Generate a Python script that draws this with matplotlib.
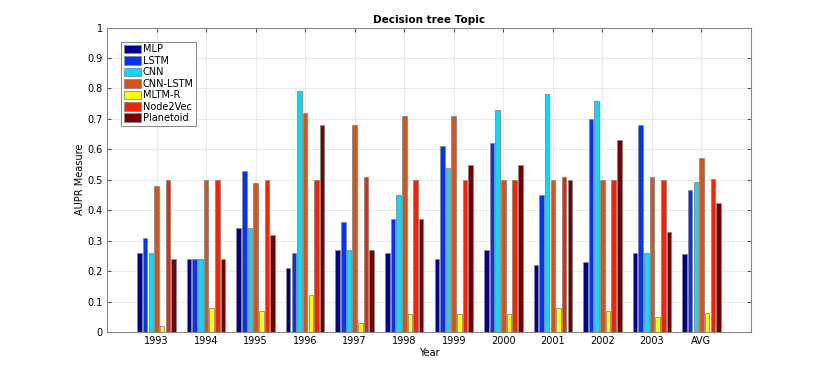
import matplotlib.pyplot as plt
import numpy as np

years = ["1993", "1994", "1995", "1996", "1997", "1998", "1999",
         "2000", "2001", "2002", "2003", "AVG"]
methods = ["MLP", "LSTM", "CNN", "CNN-LSTM", "MLTM-R", "Node2Vec", "Planetoid"]

mlp       = [0.26, 0.24, 0.34, 0.21, 0.27, 0.26, 0.24, 0.27, 0.22, 0.23, 0.26, 0.255]
lstm      = [0.31, 0.24, 0.53, 0.26, 0.36, 0.37, 0.61, 0.62, 0.45, 0.70, 0.68, 0.466]
cnn       = [0.26, 0.24, 0.34, 0.79, 0.27, 0.45, 0.54, 0.73, 0.78, 0.76, 0.26, 0.492]
cnn_lstm  = [0.48, 0.50, 0.49, 0.72, 0.68, 0.71, 0.71, 0.50, 0.50, 0.50, 0.51, 0.573]
mltm_r    = [0.02, 0.08, 0.07, 0.12, 0.03, 0.06, 0.06, 0.06, 0.08, 0.07, 0.05, 0.064]
node2vec  = [0.50, 0.50, 0.50, 0.50, 0.51, 0.50, 0.50, 0.50, 0.51, 0.50, 0.50, 0.502]
planetoid = [0.24, 0.24, 0.32, 0.68, 0.27, 0.37, 0.55, 0.55, 0.50, 0.63, 0.33, 0.425]

colors = ["#00008C", "#0033FF", "#00DDFF", "#D95319", "#FFFF00", "#FF2000", "#7A0000"]

series = [mlp, lstm, cnn, cnn_lstm, mltm_r, node2vec, planetoid]

fig = plt.figure(figsize=(8.3, 3.74), dpi=100)
ax = fig.add_axes([107/830, 1-332/374, (751-107)/830, (332-27.5)/374])

x = np.arange(1, len(years)+1)
step = 0.8/7
for i, (vals, c, name) in enumerate(zip(series, colors, methods)):
    ax.bar(x + (i-3)*step, vals, width=0.092, color=c, edgecolor="#888888",
           linewidth=0.6, label=name, zorder=3)

ax.set_xlim(0, 13)
ax.set_ylim(0, 1)
ax.set_xticks(x)
ax.set_xticklabels(years, fontsize=7)
ax.set_yticks(np.arange(0, 1.01, 0.1))
ax.set_yticklabels(["0", "0.1", "0.2", "0.3", "0.4", "0.5", "0.6", "0.7", "0.8", "0.9", "1"], fontsize=7)
ax.tick_params(direction="in", length=3, color="#555555", top=True, right=True, pad=3)
ax.grid(True, color="#e6e6e6", linewidth=0.6, zorder=0)
for s in ax.spines.values():
    s.set_color("#888888")
    s.set_linewidth(0.8)

ax.set_xlabel("Year", fontsize=7, labelpad=1)
ax.set_ylabel("AUPR Measure", fontsize=7, labelpad=2)
ax.set_title("Decision tree Topic", fontsize=7.5, fontweight="bold", pad=3)

leg = ax.legend(loc="upper left", bbox_to_anchor=(0.022, 0.954), fontsize=7,
                handlelength=1.7, handleheight=1.0, handletextpad=0.2,
                labelspacing=0.15, borderpad=0.3, borderaxespad=0,
                fancybox=False, framealpha=1)
leg.get_frame().set_edgecolor("#888888")
leg.get_frame().set_linewidth(0.7)

fig.savefig("out.png", dpi=100)
